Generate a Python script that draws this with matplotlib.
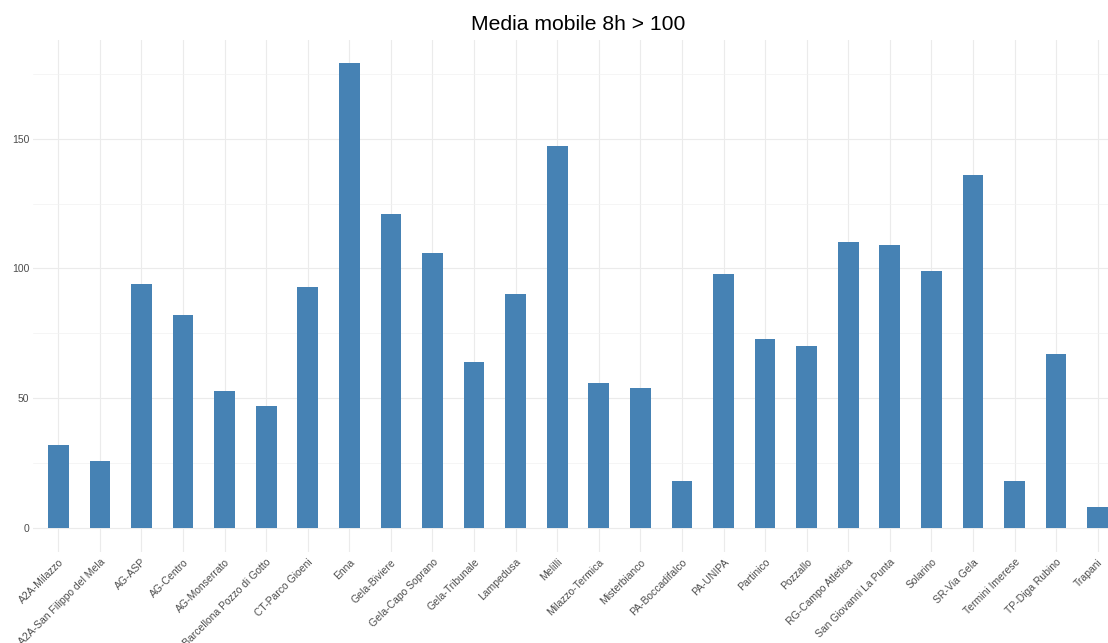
import numpy as np
import matplotlib.pyplot as plt

plt.rcParams['font.family'] = ['Liberation Sans', 'DejaVu Sans']

stations = ["A2A-Milazzo", "A2A-San Filippo del Mela", "AG-ASP", "AG-Centro",
            "AG-Monserrato", "Barcellona Pozzo di Gotto", "CT-Parco Gioeni", "Enna",
            "Gela-Biviere", "Gela-Capo Soprano", "Gela-Tribunale", "Lampedusa",
            "Melilli", "Milazzo-Termica", "Misterbianco", "PA-Boccadifalco",
            "PA-UNIPA", "Partinico", "Pozzallo", "RG-Campo Atletica",
            "San Giovanni La Punta", "Solarino", "SR-Via Gela", "Termini Imerese",
            "TP-Diga Rubino", "Trapani"]
counts = [32, 26, 94, 82, 53, 47, 93, 179, 121, 106, 64, 90, 147, 56, 54, 18,
          98, 73, 70, 110, 109, 99, 136, 18, 67, 8]

W, H = 1108, 643
fig = plt.figure(figsize=(W / 100, H / 100), dpi=100)
# panel spans a bit past the right edge, like the source image
left, right, top, bottom = 33.4, 1122.6, 40, 551.5
ax = fig.add_axes([left / W, 1 - bottom / H, (right - left) / W, (bottom - top) / H])

x = np.arange(len(stations))
ax.bar(x, counts, width=0.5, color='#4682B4', zorder=3)

ymax = max(counts)
ax.set_ylim(-0.05 * ymax, 1.05 * ymax)
ax.set_xlim(-0.6, len(stations) - 0.4)

ax.set_yticks([0, 50, 100, 150])
ax.set_yticks([25, 75, 125, 175], minor=True)
ax.set_xticks(x)
ax.set_xticklabels(stations, rotation=45, ha='right', va='top',
                   rotation_mode='anchor', fontsize=7.5, color='#4D4D4D')
ax.tick_params(axis='y', labelsize=7.5, labelcolor='#4D4D4D', length=0, pad=3)
ax.tick_params(axis='x', length=0, pad=4)
ax.tick_params(which='minor', length=0)

ax.grid(which='major', color='#EBEBEB', linewidth=0.8, zorder=0)
ax.grid(which='minor', axis='y', color='#F2F2F2', linewidth=0.5, zorder=0)
for s in ax.spines.values():
    s.set_visible(False)

fig.text(578 / W, 1 - 24 / H, "Media mobile 8h > 100", ha='center', va='center',
         fontsize=15.2, color='black')

fig.savefig("out.png", dpi=100)
